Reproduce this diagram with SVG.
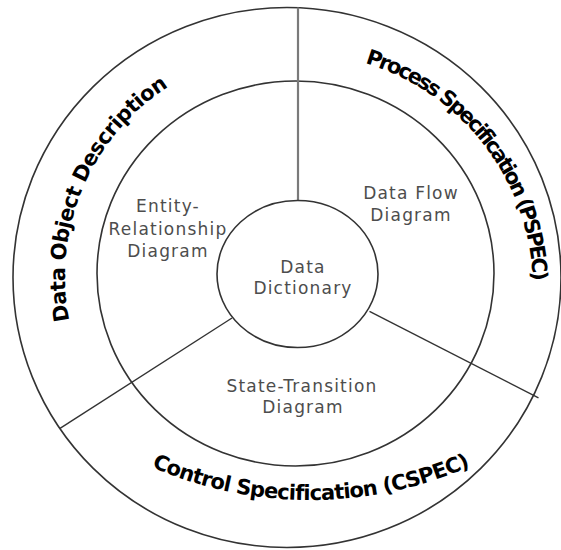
<svg xmlns="http://www.w3.org/2000/svg" width="561" height="550" viewBox="0 0 561 550">
  <style>
    .ring { fill: none; stroke: #333; stroke-width: 1.6; }
    .div { stroke: #333; stroke-width: 1.4; }
    .vdiv { stroke: #7a7a7a; stroke-width: 2.2; }
    .lbl { font-family: "DejaVu Sans", Verdana, sans-serif; font-size: 17px; fill: #4d4d4d; text-anchor: middle; letter-spacing: 1.2px; }
    .arc { font-family: "DejaVu Sans", Verdana, sans-serif; font-size: 21px; font-weight: bold; fill: #000; text-anchor: middle; }
  </style>
  <defs>
    <path id="pDOD" d="M69.4,320.5 A225,225 0 0 1 167.8,87.1"/>
    <path id="pPS" d="M366,63.3 A236,236 0 0 1 532.7,277.9"/>
    <path id="pCS" d="M151.1,466.8 A397,397 0 0 0 470.2,466.3"/>
  </defs>
  <rect width="561" height="550" fill="#fff"/>

  <g id="outer-ring">
    <ellipse class="ring" cx="287" cy="277.5" rx="274" ry="270"/>
  </g>
  <g id="middle-ring">
    <ellipse class="ring" cx="295.5" cy="273.5" rx="198.5" ry="192.5"/>
  </g>

  <g id="connectors">
    <line class="vdiv" x1="298" y1="7.5" x2="298" y2="200.5"/>
    <line class="div" x1="232" y1="318" x2="60" y2="428.3"/>
    <line class="div" x1="369.5" y1="311.3" x2="538.5" y2="397.8"/>
  </g>

  <g id="data-dictionary">
    <ellipse class="ring" cx="297.5" cy="274" rx="80.5" ry="73.5"/>
    <text class="lbl" x="303" y="273">Data</text>
    <text class="lbl" x="303" y="294">Dictionary</text>
  </g>

  <g id="erd">
    <text class="lbl" x="168" y="212">Entity-</text>
    <text class="lbl" x="168" y="235">Relationship</text>
    <text class="lbl" x="168" y="257">Diagram</text>
  </g>

  <g id="dfd">
    <text class="lbl" x="411" y="199">Data Flow</text>
    <text class="lbl" x="411" y="221">Diagram</text>
  </g>

  <g id="std">
    <text class="lbl" x="302" y="392">State-Transition</text>
    <text class="lbl" x="303" y="413">Diagram</text>
  </g>

  <g id="data-object-description">
    <text class="arc" style="letter-spacing:-0.6px"><textPath href="#pDOD" startOffset="50%">Data Object Description</textPath></text>
  </g>

  <g id="pspec">
    <text class="arc" style="letter-spacing:-2.2px"><textPath href="#pPS" startOffset="50%">Process Specification (PSPEC)</textPath></text>
  </g>

  <g id="cspec">
    <text class="arc" style="letter-spacing:-0.8px"><textPath href="#pCS" startOffset="50%">Control Specification (CSPEC)</textPath></text>
  </g>
</svg>
